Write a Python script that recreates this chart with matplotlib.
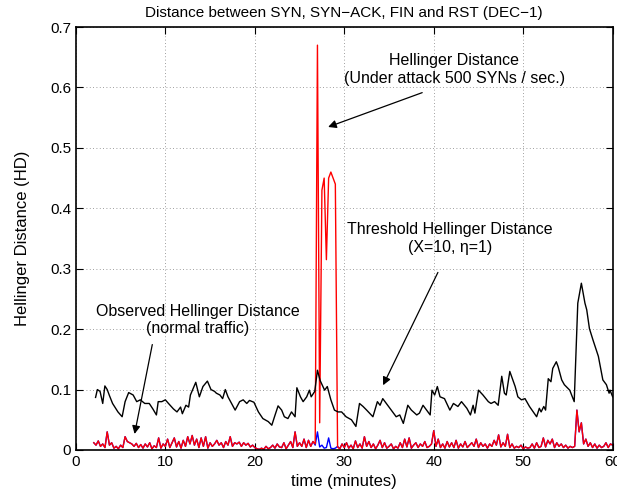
import numpy as np
import matplotlib
matplotlib.use('Agg')
import matplotlib.pyplot as plt

plt.rcParams['font.family'] = ['Liberation Sans', 'DejaVu Sans']

# threshold Hellinger distance (black)
thr_t = [2.2, 2.4, 2.7, 3.0, 3.24, 3.5, 3.75, 4.1, 4.7, 5.17, 5.5, 5.9, 6.4, 6.8, 7.2, 7.7,
         8.2, 8.6, 9.0, 9.2, 9.6, 10.0, 10.35, 10.9, 11.3, 11.7, 11.9, 12.3, 12.6, 12.8, 13.4,
         13.8, 14.2, 14.7, 15.1, 15.5, 15.7, 16.1, 16.4, 16.7, 17.0, 17.8, 18.3, 18.7, 19.1,
         19.4, 19.9, 20.4, 20.9, 21.5, 21.9, 22.2, 22.6, 23.0, 23.3, 23.7, 24.1, 24.5, 24.7,
         25.1, 25.4, 25.8, 26.1, 26.3, 26.7, 27.0, 27.3, 27.8, 28.1, 28.5, 28.9, 29.3, 29.7,
         30.2, 30.8, 31.3, 31.7, 32.1, 32.5, 33.2, 33.7, 34.0, 34.3, 35.1, 35.8, 36.2, 36.6,
         37.1, 37.5, 38.1, 38.4, 38.8, 39.2, 39.6, 39.8, 40.1, 40.4, 40.7, 41.2, 41.8, 42.2,
         42.7, 43.1, 43.7, 44.1, 44.4, 44.6, 45.0, 45.5, 46.1, 46.4, 46.8, 47.2, 47.6, 47.9,
         48.1, 48.5, 49.1, 49.4, 49.8, 50.2, 50.7, 51.5, 51.8, 52.0, 52.3, 52.5, 52.8, 53.1,
         53.3, 53.7, 53.9, 54.3, 54.6, 55.2, 55.7, 56.1, 56.5, 56.9, 57.1, 57.4, 57.8, 58.4,
         58.9, 59.3, 59.6, 59.7, 60.0]
thr_hd = [0.087, 0.100, 0.097, 0.077, 0.106, 0.100, 0.090, 0.077, 0.063, 0.055, 0.080, 0.095,
          0.091, 0.080, 0.083, 0.077, 0.077, 0.068, 0.058, 0.080, 0.080, 0.083, 0.077, 0.068,
          0.063, 0.071, 0.060, 0.074, 0.071, 0.091, 0.112, 0.088, 0.105, 0.114, 0.100, 0.097,
          0.094, 0.091, 0.085, 0.100, 0.088, 0.066, 0.080, 0.083, 0.077, 0.082, 0.079, 0.063,
          0.052, 0.047, 0.041, 0.055, 0.073, 0.066, 0.055, 0.052, 0.063, 0.055, 0.103, 0.088,
          0.080, 0.088, 0.099, 0.088, 0.097, 0.132, 0.115, 0.099, 0.105, 0.083, 0.066, 0.063,
          0.063, 0.055, 0.050, 0.039, 0.077, 0.072, 0.066, 0.055, 0.080, 0.074, 0.085, 0.069,
          0.055, 0.058, 0.044, 0.074, 0.066, 0.058, 0.061, 0.074, 0.066, 0.058, 0.099, 0.091,
          0.105, 0.088, 0.085, 0.066, 0.077, 0.072, 0.080, 0.069, 0.058, 0.074, 0.061, 0.099,
          0.091, 0.080, 0.077, 0.080, 0.074, 0.122, 0.094, 0.091, 0.130, 0.105, 0.088, 0.083,
          0.085, 0.072, 0.055, 0.069, 0.063, 0.072, 0.066, 0.118, 0.113, 0.135, 0.146, 0.138,
          0.116, 0.108, 0.099, 0.080, 0.243, 0.276, 0.243, 0.232, 0.201, 0.182, 0.155, 0.116,
          0.108, 0.094, 0.099, 0.088]

# observed Hellinger distance, normal traffic (one sample every 15 s, 2..60 min)
obs_t = np.arange(2.0, 60.01, 0.25)
obs_hd = [0.012, 0.008, 0.015, 0.006, 0.010, 0.004, 0.030, 0.008,
          0.012, 0.003, 0.006, 0.002, 0.008, 0.004, 0.022, 0.014,
          0.012, 0.010, 0.006, 0.011, 0.004, 0.009, 0.003, 0.010,
          0.005, 0.012, 0.002, 0.007, 0.004, 0.020, 0.003, 0.010,
          0.006, 0.018, 0.004, 0.012, 0.020, 0.005, 0.014, 0.003,
          0.016, 0.006, 0.022, 0.010, 0.024, 0.008, 0.018, 0.004,
          0.020, 0.006, 0.022, 0.003, 0.012, 0.006, 0.010, 0.016,
          0.008, 0.012, 0.004, 0.014, 0.008, 0.022, 0.006, 0.012,
          0.010, 0.013, 0.006, 0.012, 0.008, 0.011, 0.005, 0.008,
          0.004, 0.002, 0.001, 0.003, 0.001, 0.006, 0.002, 0.004,
          0.008, 0.003, 0.010, 0.005, 0.004, 0.012, 0.002, 0.008,
          0.014, 0.004, 0.030, 0.006, 0.012, 0.006, 0.018, 0.004,
          0.016, 0.006, 0.014, 0.008, 0.030, 0.005, 0.008, 0.003,
          0.004, 0.020, 0.003, 0.002, 0.003, 0.006, 0.002, 0.010,
          0.004, 0.012, 0.003, 0.008, 0.002, 0.015, 0.004, 0.010,
          0.003, 0.022, 0.006, 0.014, 0.004, 0.010, 0.002, 0.008,
          0.016, 0.004, 0.012, 0.003, 0.006, 0.010, 0.002, 0.006,
          0.003, 0.012, 0.004, 0.018, 0.005, 0.020, 0.003, 0.008,
          0.012, 0.004, 0.010, 0.006, 0.014, 0.004, 0.006, 0.010,
          0.032, 0.006, 0.018, 0.004, 0.010, 0.003, 0.014, 0.005,
          0.012, 0.004, 0.016, 0.003, 0.010, 0.005, 0.014, 0.004,
          0.008, 0.012, 0.006, 0.018, 0.004, 0.012, 0.006, 0.010,
          0.003, 0.010, 0.006, 0.016, 0.008, 0.025, 0.005, 0.012,
          0.006, 0.026, 0.004, 0.010, 0.003, 0.006, 0.004, 0.008,
          0.002, 0.005, 0.003, 0.004, 0.010, 0.003, 0.012, 0.004,
          0.006, 0.020, 0.005, 0.016, 0.010, 0.018, 0.004, 0.012,
          0.006, 0.010, 0.004, 0.008, 0.003, 0.006, 0.004, 0.006,
          0.066, 0.030, 0.045, 0.010, 0.018, 0.006, 0.012, 0.004,
          0.010, 0.003, 0.008, 0.004, 0.006, 0.012, 0.004, 0.010,
          0.008]

# Hellinger distance under attack (500 SYNs/sec), 26.75..29.25 min
attack_hd = [0.010, 0.670, 0.045, 0.430, 0.450, 0.315, 0.450, 0.460, 0.450, 0.440, 0.005]

att_hd = np.array(obs_hd, dtype=float)
i0 = np.searchsorted(obs_t, 26.75 - 1e-9)
att_hd[i0:i0 + len(attack_hd)] = attack_hd

fig = plt.figure(figsize=(6.17, 4.97), dpi=100)
ax = fig.add_axes([0.123, 0.0946, 0.870, 0.851])

ax.plot(obs_t, obs_hd, color='blue', lw=1.0)
ax.plot(obs_t, att_hd, color='red', lw=1.0)
ax.plot(thr_t, thr_hd, color='black', lw=1.0)

ax.set_xlim(0, 60)
ax.set_ylim(0, 0.7)
ax.set_xticks(range(0, 61, 10))
ax.set_yticks(np.arange(0, 0.71, 0.1))
ax.set_yticklabels(['0', '0.1', '0.2', '0.3', '0.4', '0.5', '0.6', '0.7'])
ax.grid(True, linestyle=(0, (1, 3)), color='black', lw=0.6, alpha=0.5)
ax.tick_params(direction='in', top=True, right=True, labelsize=11, length=5)
for s in ax.spines.values():
    s.set_linewidth(1.2)

ax.set_xlabel('time (minutes)', fontsize=12)
ax.set_ylabel('Hellinger Distance (HD)', fontsize=12, labelpad=14)
ax.set_title('Distance between SYN, SYN\u2212ACK, FIN and RST (DEC\u22121)', fontsize=11, pad=7)

arrow = dict(arrowstyle='-|>', color='black', lw=0.9, mutation_scale=12)
ax.annotate('', xy=(27.9, 0.533), xytext=(39.0, 0.593), arrowprops=arrow)
ax.text(42.3, 0.63, 'Hellinger Distance\n(Under attack 500 SYNs / sec.)',
        ha='center', va='center', fontsize=11.5, linespacing=1.2)

ax.annotate('', xy=(34.2, 0.103), xytext=(40.6, 0.298), arrowprops=arrow)
ax.text(41.8, 0.35, 'Threshold Hellinger Distance\n(X=10, \u03b7=1)',
        ha='center', va='center', fontsize=11.5, linespacing=1.2)

ax.annotate('', xy=(6.5, 0.022), xytext=(8.6, 0.179), arrowprops=arrow)
ax.text(13.6, 0.215, 'Observed Hellinger Distance\n(normal traffic)',
        ha='center', va='center', fontsize=11.5, linespacing=1.2)

fig.savefig('out.png', dpi=100)
